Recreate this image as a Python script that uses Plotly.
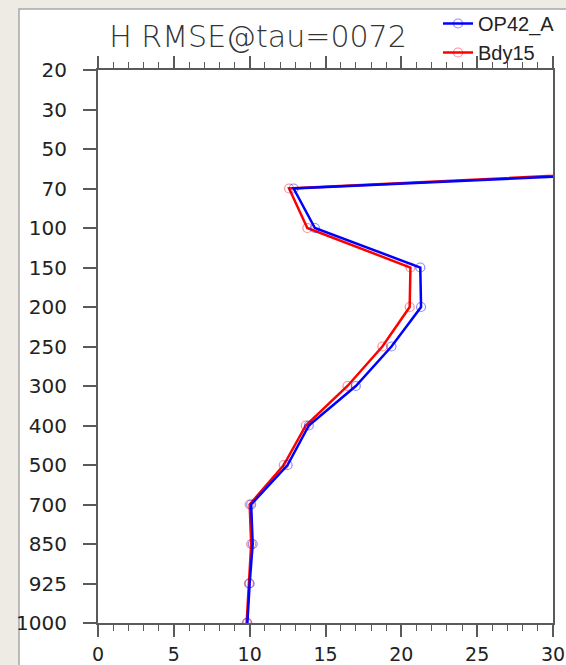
import plotly.graph_objects as go

levels = ["20", "30", "50", "70", "100", "150", "200", "250", "300",
          "400", "500", "700", "850", "925", "1000"]
op42_a = [80.0, 75.0, 70.0, 12.9, 14.3, 21.25, 21.3, 19.35, 17.0,
          13.9, 12.5, 10.1, 10.2, 10.0, 9.85]
bdy15 = [78.0, 72.0, 67.0, 12.6, 13.8, 20.6, 20.55, 18.75, 16.45,
         13.7, 12.25, 10.0, 10.1, 9.95, 9.8]

title_text = "H RMSE@tau=0072"

W, H = 566, 665
L, R, T, B = 98, 13, 70, 42
pw, ph = W - L - R, H - T - B

def px_x(x):
    return (x - L) / pw

def px_y(y):
    return 1 - (y - T) / ph

fig = go.Figure()
fig.add_trace(go.Scatter(
    x=bdy15, y=levels, name="Bdy15", mode="lines+markers",
    line=dict(color="#ff0000", width=2.5),
    marker=dict(symbol="circle-open", size=9, color="rgba(255,0,0,0.45)",
                line=dict(width=1.2, color="rgba(255,0,0,0.45)")),
))
fig.add_trace(go.Scatter(
    x=op42_a, y=levels, name="OP42_A", mode="lines+markers",
    line=dict(color="#0000ff", width=2.5),
    marker=dict(symbol="circle-open", size=9, color="rgba(0,0,255,0.45)",
                line=dict(width=1.2, color="rgba(0,0,255,0.45)")),
))

axis_col = "#5a5a5a"
fig.update_layout(
    width=W, height=H,
    margin=dict(l=L, r=R, t=T, b=B, autoexpand=False),
    paper_bgcolor="#edebe3",
    plot_bgcolor="#ffffff",
    title=dict(text=title_text, x=258 / W, xanchor="center",
               y=1 - 36 / H, yanchor="middle", xref="container", yref="container",
               font=dict(family="DejaVu Sans", size=30, color="#333333", weight=200)),
    legend=dict(x=px_x(438), xanchor="left", y=px_y(4), yanchor="top",
                traceorder="reversed", bgcolor="rgba(0,0,0,0)",
                font=dict(family="Liberation Sans", size=20, color="#222222"),
                tracegroupgap=0),
    shapes=[dict(type="rect", xref="paper", yref="paper",
                 x0=px_x(19), x1=px_x(600), y0=px_y(720), y1=px_y(9),
                 fillcolor="#ffffff", line=dict(color="#a8a8a8", width=1.5),
                 layer="below")],
    xaxis=dict(range=[0, 30], dtick=5, tick0=0, ticks="outside", ticklen=12,
               tickwidth=2, tickcolor=axis_col, showline=True, linecolor=axis_col,
               linewidth=2, mirror="ticks", showgrid=False, zeroline=False,
               ticklabelstandoff=1,
               tickfont=dict(family="DejaVu Sans", size=19, color="#222222"),
               minor=dict(dtick=1, ticks="outside", ticklen=6, tickwidth=1,
                          tickcolor=axis_col, showgrid=False)),
    yaxis=dict(type="category", categoryorder="array", categoryarray=levels,
               range=[len(levels) - 1, 0], ticks="outside", ticklen=13,
               tickwidth=2, tickcolor=axis_col, showline=True, linecolor=axis_col,
               linewidth=2, mirror=True, showgrid=False, zeroline=False,
               ticklabelstandoff=12,
               tickfont=dict(family="DejaVu Sans", size=20, color="#222222")),
)

fig.write_html(
    "out.html",
    config={"displayModeBar": False},
    post_script="document.body.style.margin='0';document.body.style.overflow='hidden';"
                "document.body.style.background='#edebe3';",
)
